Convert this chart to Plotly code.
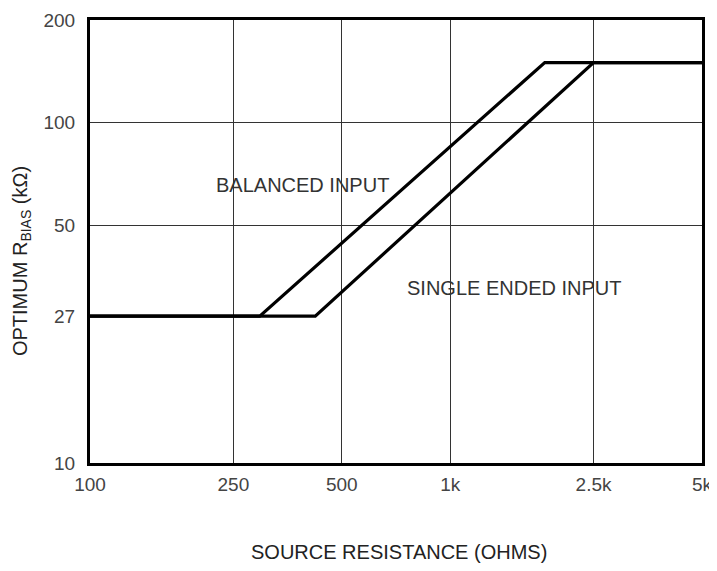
import plotly.graph_objects as go

# Data
balanced_x = [100, 296, 1830, 5000]
balanced_y = [27, 27, 150, 150]
single_x = [100, 422, 2500, 5000]
single_y = [27, 27, 150, 150]

x_tickvals = [100, 250, 500, 1000, 2500, 5000]
x_ticktext = ["100", "250", "500", "1k", "2.5k", "5k"]
y_tickvals = [10, 27, 50, 100, 200]
y_ticktext = ["10", "27", "50", "100", "200"]
y_gridvals = [50, 100]

FONT = "Liberation Sans, Arial, sans-serif"

fig = go.Figure()
line_style = dict(color="black", width=3.2)
fig.add_trace(go.Scatter(x=balanced_x, y=balanced_y, mode="lines", line=line_style,
                         name="BALANCED INPUT", showlegend=False))
fig.add_trace(go.Scatter(x=single_x, y=single_y, mode="lines", line=line_style,
                         name="SINGLE ENDED INPUT", showlegend=False))
# invisible trace on overlay axis that carries the horizontal gridlines
fig.add_trace(go.Scatter(x=[100, 5000], y=[10, 200], mode="lines", yaxis="y2",
                         line=dict(width=0), hoverinfo="skip", showlegend=False))

fig.add_annotation(x=2.345, y=1.815, xref="x", yref="y", text="BALANCED INPUT",
                   showarrow=False, xanchor="left", yanchor="middle",
                   font=dict(family=FONT, size=20, color="#333"))
fig.add_annotation(x=2.875, y=1.515, xref="x", yref="y", text="SINGLE ENDED INPUT",
                   showarrow=False, xanchor="left", yanchor="middle",
                   font=dict(family=FONT, size=20, color="#333"))

# axis titles
fig.add_annotation(x=-0.111, y=0.456, xref="paper", yref="paper",
                   text="OPTIMUM R<sub>BIAS</sub> (kΩ)", textangle=-90,
                   showarrow=False, xanchor="center", yanchor="middle",
                   font=dict(family=FONT, size=20, color="#222"))
fig.add_annotation(x=0.505, y=-0.2, xref="paper", yref="paper",
                   text="SOURCE RESISTANCE (OHMS)",
                   showarrow=False, xanchor="center", yanchor="middle",
                   font=dict(family=FONT, size=20, color="#222"))

# the page body has an 8px margin, so the figure is 8px smaller and margins shifted
fig.update_layout(
    width=709, height=563,
    margin=dict(l=82, r=15, t=12, b=108),
    paper_bgcolor="white", plot_bgcolor="white",
    font=dict(family=FONT, size=19, color="#444"),
    xaxis=dict(type="log", range=[2, 3.69897], tickvals=x_tickvals, ticktext=x_ticktext,
               showgrid=True, gridcolor="#333", gridwidth=1,
               showline=True, linecolor="black", linewidth=3, mirror=True,
               ticks="", zeroline=False, ticklabelstandoff=2, automargin=False,
               tickfont=dict(size=19, color="#444")),
    yaxis=dict(type="log", range=[1, 2.30103], tickvals=y_tickvals, ticktext=y_ticktext,
               showgrid=False,
               showline=True, linecolor="black", linewidth=3, mirror=True,
               ticks="", zeroline=False, ticklabelstandoff=8, automargin=False,
               tickfont=dict(size=19, color="#444")),
    yaxis2=dict(type="log", range=[1, 2.30103], overlaying="y", tickvals=y_gridvals,
                showticklabels=False, showgrid=True, gridcolor="#333", gridwidth=1,
                ticks="", zeroline=False, showline=False, automargin=False),
)

fig.write_html("out.html")
